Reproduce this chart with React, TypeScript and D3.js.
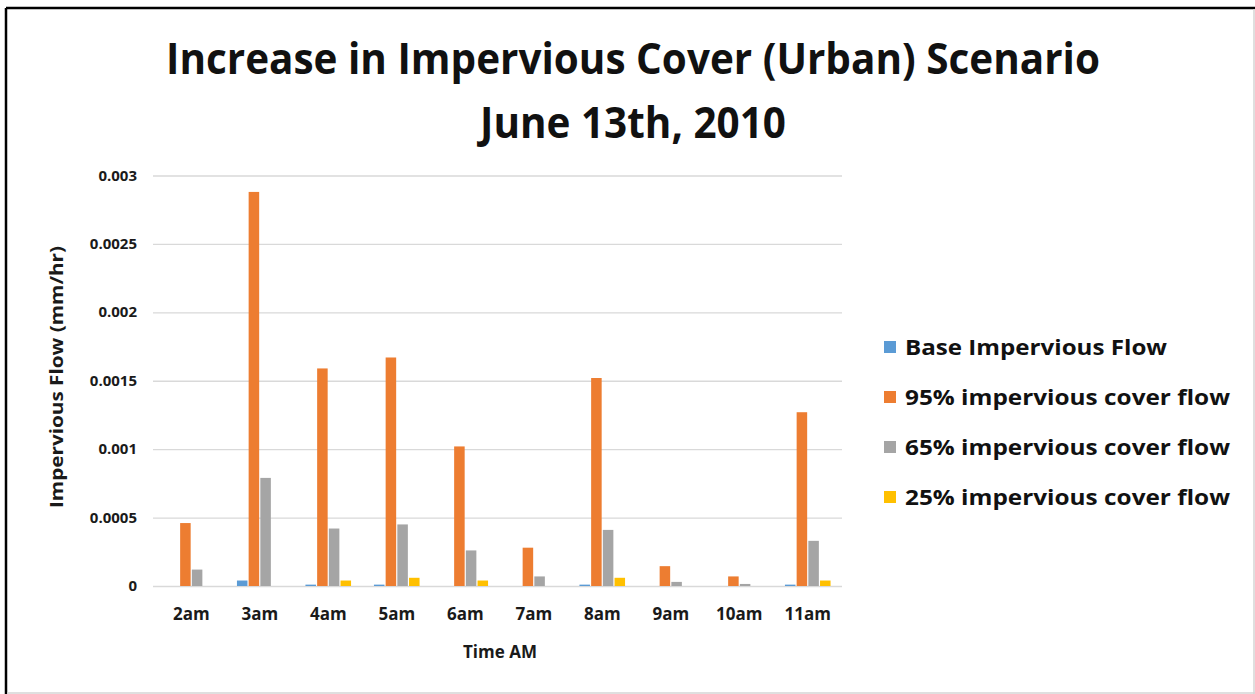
import React, { useEffect, useRef } from "react";
import * as d3 from "d3";

const hours = ["2am", "3am", "4am", "5am", "6am", "7am", "8am", "9am", "10am", "11am"];
const seriesNames = [
  "Base Impervious Flow",
  "95% impervious cover flow",
  "65% impervious cover flow",
  "25% impervious cover flow",
];
const baseFlow = [0, 0.00004, 0.00001, 0.00001, 0, 0, 0.00001, 0, 0, 0.00001];
const flow95 = [0.00046, 0.00288, 0.00159, 0.00167, 0.00102, 0.00028, 0.00152, 0.000145, 0.00007, 0.00127];
const flow65 = [0.00012, 0.00079, 0.00042, 0.00045, 0.00026, 0.00007, 0.00041, 0.00003, 0.000015, 0.00033];
const flow25 = [0, 0, 0.00004, 0.00006, 0.00004, 0, 0.00006, 0, 0, 0.00004];
const yTicks = [0, 0.0005, 0.001, 0.0015, 0.002, 0.0025, 0.003];
const yTickLabels = ["0", "0.0005", "0.001", "0.0015", "0.002", "0.0025", "0.003"];
const colors = ["#5B9BD5", "#ED7D31", "#A5A5A5", "#FFC000"];

const W = 1255;
const H = 694;
const FONT = "'Open Sans', 'Liberation Sans', sans-serif";

const App: React.FC = () => {
  const svgRef = useRef<SVGSVGElement | null>(null);

  useEffect(() => {
    const svg = d3.select(svgRef.current);
    svg.selectAll("*").remove();

    const allSeries = [baseFlow, flow95, flow65, flow25];
    const data = hours.map((h, i) => ({
      hour: h,
      values: seriesNames.map((s, k) => ({ key: s, value: allSeries[k][i] })),
    }));

    const x = d3.scaleBand().domain(hours).range([157, 842]).paddingInner(0.3).paddingOuter(0.15);
    const xSub = d3.scaleBand().domain(seriesNames).range([0, x.bandwidth()]).padding(0.1);
    const y = d3.scaleLinear().domain([0, 0.003]).range([586, 175.5]);
    const color = d3.scaleOrdinal<string, string>().domain(seriesNames).range(colors);

    svg.append("rect").attr("width", W).attr("height", H).attr("fill", "#ffffff");

    // gridlines
    svg
      .append("g")
      .attr("transform", "translate(153,0)")
      .call(d3.axisLeft(y).tickValues(yTicks).tickSize(-(842 - 153)).tickFormat(() => ""))
      .call(g => g.select(".domain").remove())
      .call(g => g.selectAll("line").attr("stroke", "#d9d9d9").attr("stroke-width", 1.3));

    // y tick labels
    svg
      .append("g")
      .selectAll("text")
      .data(yTicks)
      .enter()
      .append("text")
      .attr("x", 137)
      .attr("y", d => y(d) + 5)
      .attr("text-anchor", "end")
      .style("font-family", FONT)
      .style("font-weight", "bold")
      .style("font-size", "15px")
      .attr("fill", "#1a1a1a")
      .text((d, i) => yTickLabels[i]);

    // bars
    const groups = svg
      .selectAll(".group")
      .data(data)
      .enter()
      .append("g")
      .attr("class", "group")
      .attr("transform", d => `translate(${x(d.hour)},0)`);

    groups
      .selectAll("rect")
      .data(d => d.values)
      .enter()
      .append("rect")
      .attr("x", d => xSub(d.key)!)
      .attr("y", d => y(d.value))
      .attr("width", xSub.bandwidth())
      .attr("height", d => y(0) - y(d.value))
      .attr("fill", d => color(d.key));

    // x labels
    svg
      .append("g")
      .selectAll("text")
      .data(hours)
      .enter()
      .append("text")
      .attr("x", d => x(d)! + x.bandwidth() / 2)
      .attr("y", 620)
      .attr("text-anchor", "middle")
      .style("font-family", FONT)
      .style("font-weight", "bold")
      .style("font-size", "17px")
      .attr("fill", "#1a1a1a")
      .text(d => d);

    // axis titles
    svg
      .append("text")
      .attr("x", 500)
      .attr("y", 658)
      .attr("text-anchor", "middle")
      .style("font-family", FONT)
      .style("font-weight", "bold")
      .style("font-size", "17px")
      .attr("fill", "#1a1a1a")
      .text("Time AM");

    svg
      .append("text")
      .attr("transform", "translate(63,377) rotate(-90)")
      .attr("text-anchor", "middle")
      .attr("textLength", 262)
      .attr("lengthAdjust", "spacingAndGlyphs")
      .style("font-family", FONT)
      .style("font-weight", "bold")
      .style("font-size", "18px")
      .attr("fill", "#1a1a1a")
      .text("Impervious Flow  (mm/hr)");

    // title
    svg
      .append("text")
      .attr("x", 633)
      .attr("y", 74)
      .attr("text-anchor", "middle")
      .attr("textLength", 934)
      .attr("lengthAdjust", "spacingAndGlyphs")
      .style("font-family", FONT)
      .style("font-weight", "bold")
      .style("font-size", "43px")
      .attr("fill", "#111")
      .text("Increase in Impervious Cover (Urban) Scenario");

    svg
      .append("text")
      .attr("x", 633)
      .attr("y", 138)
      .attr("text-anchor", "middle")
      .attr("textLength", 306)
      .attr("lengthAdjust", "spacingAndGlyphs")
      .style("font-family", FONT)
      .style("font-weight", "bold")
      .style("font-size", "43px")
      .attr("fill", "#111")
      .text("June 13th, 2010");

    // legend
    const legend = svg.append("g").attr("transform", "translate(884,347)");
    seriesNames.forEach((s, i) => {
      const row = legend.append("g").attr("transform", `translate(0,${i * 50})`);
      row.append("rect").attr("y", -6).attr("width", 12).attr("height", 12).attr("fill", color(s));
      row
        .append("text")
        .attr("x", 21)
        .attr("y", 8)
        .attr("textLength", i === 0 ? 262 : 325)
        .attr("lengthAdjust", "spacingAndGlyphs")
        .style("font-family", FONT)
        .style("font-weight", "bold")
        .style("font-size", "22px")
        .attr("fill", "#111")
        .text(s);
    });

    // frame
    svg.append("line").attr("x1", 6).attr("x2", W).attr("y1", 8).attr("y2", 8).attr("stroke", "#000").attr("stroke-width", 2.5);
    svg.append("line").attr("x1", 6).attr("x2", 6).attr("y1", 8).attr("y2", H).attr("stroke", "#000").attr("stroke-width", 2.5);
    svg.append("line").attr("x1", 1254).attr("x2", 1254).attr("y1", 9).attr("y2", H).attr("stroke", "#d4d4d4").attr("stroke-width", 1.5);
    svg.append("line").attr("x1", 7).attr("x2", W).attr("y1", 693).attr("y2", 693).attr("stroke", "#d4d4d4").attr("stroke-width", 1.5);
  }, []);

  return (
    <div style={{ position: "absolute", left: 0, top: 0, width: W, height: H }}>
      <svg ref={svgRef} width={W} height={H} style={{ display: "block" }}></svg>
    </div>
  );
};

export default App;
